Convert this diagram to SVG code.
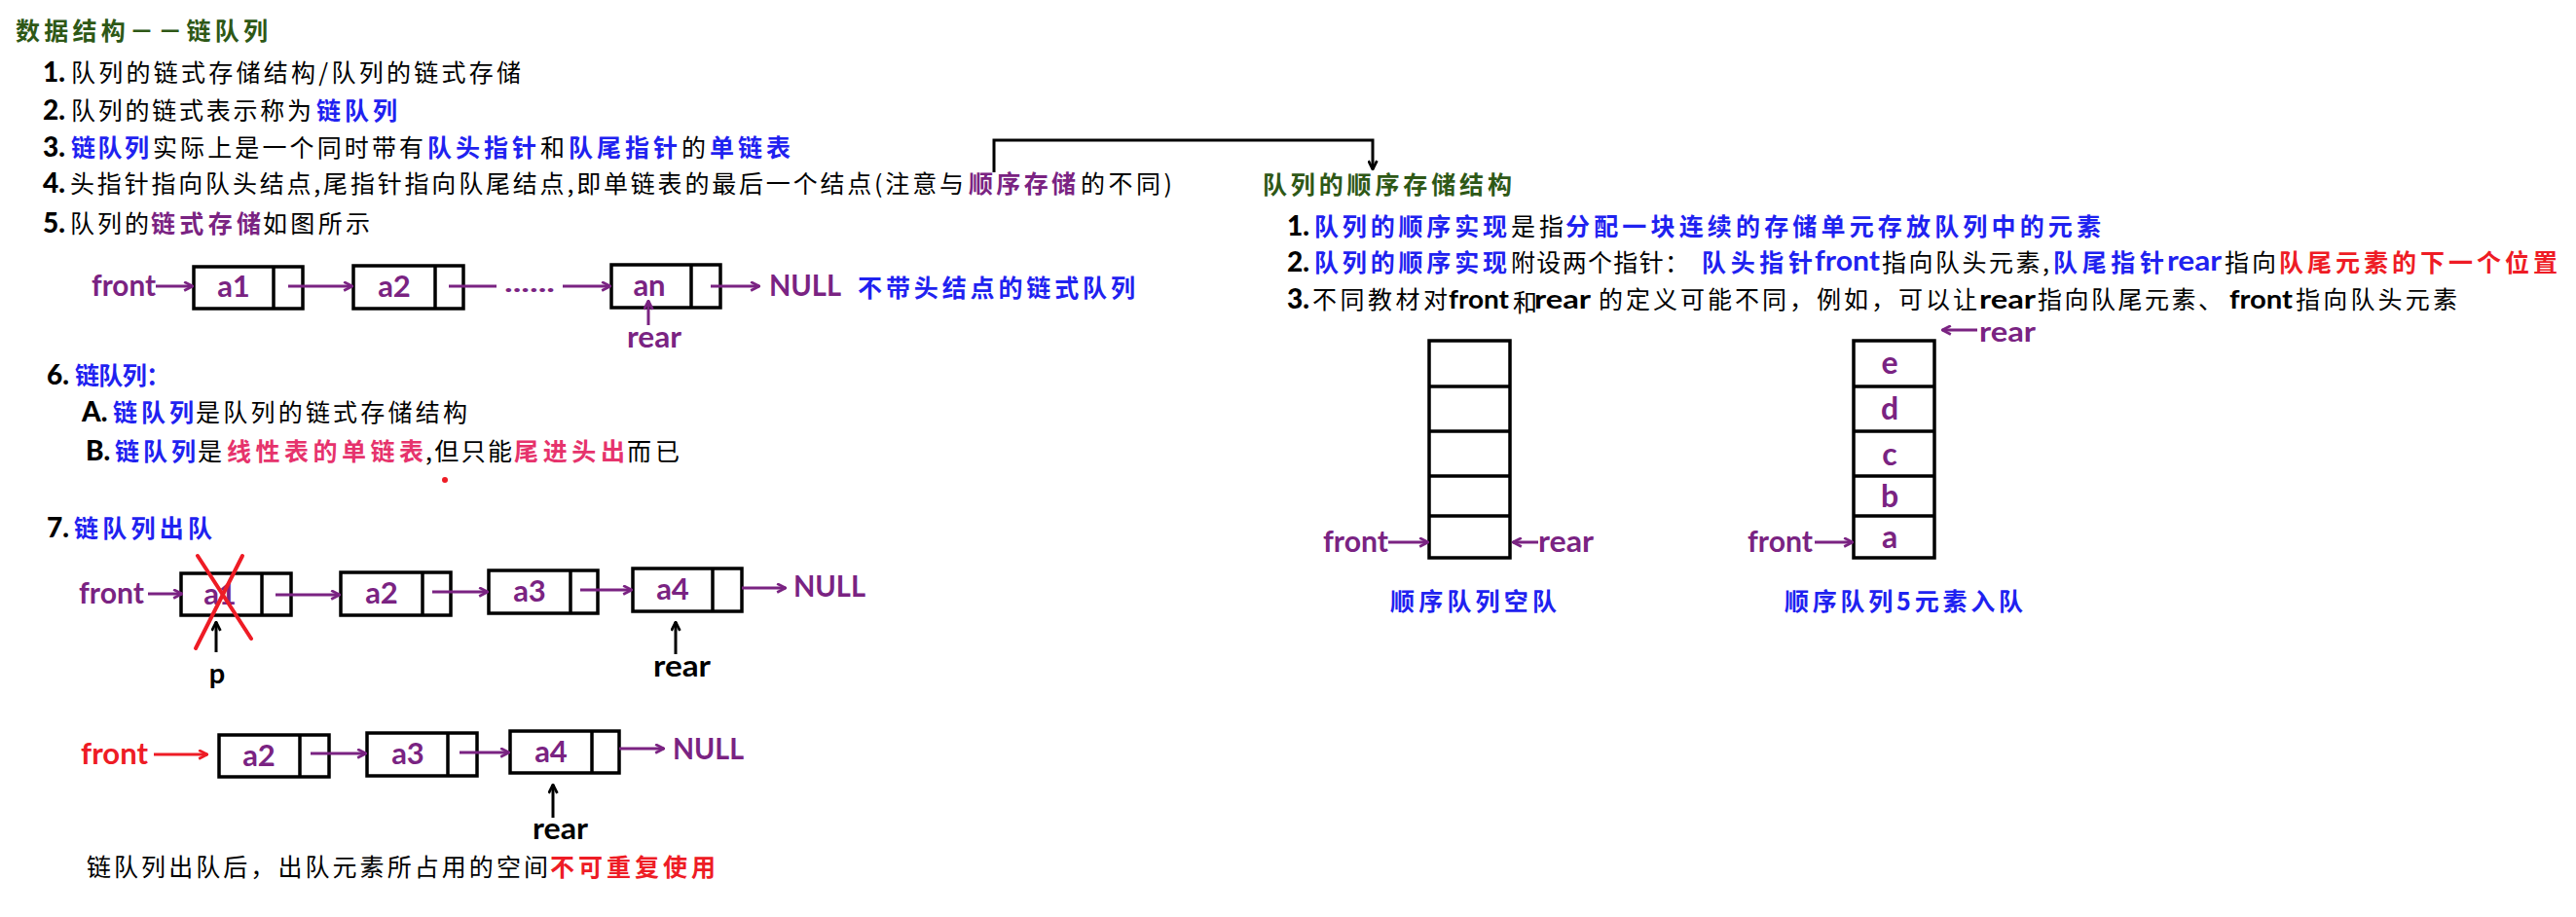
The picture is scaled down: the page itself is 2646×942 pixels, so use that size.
<svg xmlns="http://www.w3.org/2000/svg" width="2646" height="942" viewBox="0 0 2646 942">
<style>
.cn{font-family:"Noto Sans CJK SC","Noto Sans CJK JP",sans-serif;font-size:25px;dominant-baseline:central}
.b{font-weight:bold}
.lat{font-family:"Lato","DejaVu Sans",sans-serif;font-weight:bold;dominant-baseline:central}
.num{font-family:"Lato","DejaVu Sans",sans-serif;font-weight:900;font-size:28px;dominant-baseline:central;fill:#000}
.k{fill:#000}.bl{fill:#1f22f0}.pu{fill:#7a2382}.pk{fill:#e6336c}.rd{fill:#ee1c25}.gr{fill:#2e5816}
.box{fill:#fff;stroke:#000;stroke-width:3.5}
.div{stroke:#000;stroke-width:3.5}
.ep{stroke:#7a2382;stroke-width:3;fill:none}
.ek{stroke:#000;stroke-width:3;fill:none}
.er{stroke:#ee1c25;stroke-width:3;fill:none}
.lbl{font-size:31px}
</style>
<defs>
<marker id="ap" viewBox="0 0 10 10" refX="9" refY="5" markerWidth="11" markerHeight="11" markerUnits="userSpaceOnUse" orient="auto"><path d="M1,1 L9,5 L1,9" fill="none" stroke="#7a2382" stroke-width="2.5"/></marker>
<marker id="ak" viewBox="0 0 10 10" refX="9" refY="5" markerWidth="11" markerHeight="11" markerUnits="userSpaceOnUse" orient="auto"><path d="M1,1 L9,5 L1,9" fill="none" stroke="#000" stroke-width="2.5"/></marker>
<marker id="ar" viewBox="0 0 10 10" refX="9" refY="5" markerWidth="11" markerHeight="11" markerUnits="userSpaceOnUse" orient="auto"><path d="M1,1 L9,5 L1,9" fill="none" stroke="#ee1c25" stroke-width="2.5"/></marker>
</defs>
<rect width="2646" height="942" fill="#fff"/>

<g id="text-left">
<text class="cn b gr" x="16" y="30" font-size="26" textLength="259">数据结构－－链队列</text>

<text class="num" x="44" y="73">1.</text>
<text class="cn k" x="73" y="73" textLength="462">队列的链式存储结构/队列的链式存储</text>

<text class="num" x="44" y="112">2.</text>
<text class="cn k" x="73" y="112" textLength="247">队列的链式表示称为</text>
<text class="cn b bl" x="325" y="112" textLength="83">链队列</text>

<text class="num" x="44" y="150">3.</text>
<text class="cn b bl" x="73" y="150" textLength="80">链队列</text>
<text class="cn k" x="157" y="150" textLength="278">实际上是一个同时带有</text>
<text class="cn b bl" x="439" y="150" textLength="112">队头指针</text>
<text class="cn k" x="555" y="150" textLength="25">和</text>
<text class="cn b bl" x="584" y="150" textLength="112">队尾指针</text>
<text class="cn k" x="700" y="150" textLength="25">的</text>
<text class="cn b bl" x="729" y="150" textLength="83">单链表</text>

<text class="num" x="44" y="187">4.</text>
<text class="cn k" x="72" y="187" font-size="24" textLength="918">头指针指向队头结点,尾指针指向队尾结点,即单链表的最后一个结点(注意与</text>
<text class="cn b pu" x="995" y="187" font-size="24" textLength="110">顺序存储</text>
<text class="cn k" x="1110" y="187" font-size="24" textLength="94">的不同)</text>

<text class="num" x="44" y="228">5.</text>
<text class="cn k" x="72" y="228" textLength="81">队列的</text>
<text class="cn b pu" x="155" y="228" textLength="113">链式存储</text>
<text class="cn k" x="270" y="228" textLength="110">如图所示</text>

<text class="num" x="48" y="384">6.</text>
<text class="cn b bl" x="77" y="384" textLength="98">链队列：</text>
<text class="num" x="84" y="422">A.</text>
<text class="cn b bl" x="116" y="422" textLength="83">链队列</text>
<text class="cn k" x="201" y="422" textLength="279">是队列的链式存储结构</text>
<text class="num" x="88" y="462">B.</text>
<text class="cn b bl" x="118" y="462" textLength="83">链队列</text>
<text class="cn k" x="203" y="462" textLength="25">是</text>
<text class="cn b pk" x="233" y="462" textLength="202">线性表的单链表</text>
<text class="cn k" x="437" y="462" textLength="89">,但只能</text>
<text class="cn b pk" x="528" y="462" textLength="114">尾进头出</text>
<text class="cn k" x="644" y="462" textLength="54">而已</text>
<circle cx="457" cy="493" r="3" fill="#ee1c25"/>

<text class="num" x="48" y="541">7.</text>
<text class="cn b bl" x="76" y="541" textLength="142">链队列出队</text>

<text class="cn k" x="89" y="889" textLength="474">链队列出队后，出队元素所占用的空间</text>
<text class="cn b rd" x="565" y="889" textLength="170">不可重复使用</text>
</g>

<g id="row1">
<text class="lat pu lbl" x="94" y="292" textLength="66" lengthAdjust="spacingAndGlyphs">front</text>
<g id="r1-a1"><rect class="box" x="199" y="274" width="112" height="43"/><line class="div" x1="281" y1="274" x2="281" y2="317"/><text class="lat pu lbl" x="240" y="293" text-anchor="middle">a1</text></g>
<g id="r1-a2"><rect class="box" x="363" y="273" width="113" height="44"/><line class="div" x1="447" y1="273" x2="447" y2="317"/><text class="lat pu lbl" x="405" y="293" text-anchor="middle">a2</text></g>
<text class="lat pu" x="518" y="290" font-size="26" textLength="52" lengthAdjust="spacingAndGlyphs">......</text>
<g id="r1-an"><rect class="box" x="628" y="272" width="112" height="44"/><line class="div" x1="710" y1="272" x2="710" y2="316"/><text class="lat pu lbl" x="667" y="292" text-anchor="middle">an</text></g>
<text class="lat pu lbl" x="790" y="292" textLength="74" lengthAdjust="spacingAndGlyphs">NULL</text>
<text class="cn b bl" x="881" y="294" textLength="285">不带头结点的链式队列</text>
<text class="lat pu lbl" x="644" y="345" textLength="56" lengthAdjust="spacingAndGlyphs">rear</text>
</g>

<g id="row2">
<text class="lat pu lbl" x="81" y="608" textLength="67" lengthAdjust="spacingAndGlyphs">front</text>
<g id="r2-a1"><rect class="box" x="186" y="589" width="113" height="43"/><line class="div" x1="269" y1="589" x2="269" y2="632"/><text class="lat pu lbl" x="226" y="609" text-anchor="middle">a1</text></g>
<g id="r2-a2"><rect class="box" x="350" y="588" width="113" height="44"/><line class="div" x1="434" y1="588" x2="434" y2="632"/><text class="lat pu lbl" x="392" y="608" text-anchor="middle">a2</text></g>
<g id="r2-a3"><rect class="box" x="502" y="586" width="112" height="44"/><line class="div" x1="586" y1="586" x2="586" y2="630"/><text class="lat pu lbl" x="544" y="606" text-anchor="middle">a3</text></g>
<g id="r2-a4"><rect class="box" x="650" y="584" width="112" height="44"/><line class="div" x1="732" y1="584" x2="732" y2="628"/><text class="lat pu lbl" x="691" y="604" text-anchor="middle">a4</text></g>
<text class="lat pu lbl" x="815" y="601" textLength="74" lengthAdjust="spacingAndGlyphs">NULL</text>
<line x1="203" y1="571" x2="258" y2="656" stroke="#ee1c25" stroke-width="4" stroke-linecap="round"/>
<line x1="249" y1="571" x2="201" y2="666" stroke="#ee1c25" stroke-width="4" stroke-linecap="round"/>
<text class="lat k" x="223" y="690" font-size="29" text-anchor="middle">p</text>
<text class="lat k lbl" x="671" y="683" textLength="59" lengthAdjust="spacingAndGlyphs">rear</text>
</g>

<g id="row3">
<text class="lat rd lbl" x="83" y="773" textLength="69" lengthAdjust="spacingAndGlyphs">front</text>
<g id="r3-a2"><rect class="box" x="225" y="755" width="113" height="43"/><line class="div" x1="308" y1="755" x2="308" y2="798"/><text class="lat pu lbl" x="266" y="775" text-anchor="middle">a2</text></g>
<g id="r3-a3"><rect class="box" x="377" y="753" width="113" height="44"/><line class="div" x1="460" y1="753" x2="460" y2="797"/><text class="lat pu lbl" x="419" y="773" text-anchor="middle">a3</text></g>
<g id="r3-a4"><rect class="box" x="524" y="751" width="112" height="43"/><line class="div" x1="608" y1="751" x2="608" y2="794"/><text class="lat pu lbl" x="566" y="771" text-anchor="middle">a4</text></g>
<text class="lat pu lbl" x="691" y="768" textLength="73" lengthAdjust="spacingAndGlyphs">NULL</text>
<text class="lat k lbl" x="547" y="850" textLength="57" lengthAdjust="spacingAndGlyphs">rear</text>
</g>

<g id="text-right">
<text class="cn b gr" x="1297" y="188" textLength="256">队列的顺序存储结构</text>

<text class="num" x="1322" y="231">1.</text>
<text class="cn b bl" x="1350" y="231" textLength="198">队列的顺序实现</text>
<text class="cn k" x="1552" y="231" textLength="54">是指</text>
<text class="cn b bl" x="1608" y="231" textLength="550">分配一块连续的存储单元存放队列中的元素</text>

<text class="num" x="1322" y="268">2.</text>
<text class="cn b bl" x="1350" y="268" textLength="198">队列的顺序实现</text>
<text class="cn k" x="1552" y="268" textLength="183">附设两个指针：</text>
<text class="cn b bl" x="1748" y="268" textLength="114">队头指针</text>
<text class="lat bl" x="1864" y="266" font-size="29" textLength="67" lengthAdjust="spacingAndGlyphs">front</text>
<text class="cn k" x="1933" y="268" textLength="172">指向队头元素,</text>
<text class="cn b bl" x="2109" y="268" textLength="114">队尾指针</text>
<text class="lat bl" x="2226" y="266" font-size="29" textLength="56" lengthAdjust="spacingAndGlyphs">rear</text>
<text class="cn k" x="2285" y="268" textLength="53">指向</text>
<text class="cn b rd" x="2341" y="268" textLength="286">队尾元素的下一个位置</text>

<text class="num" x="1322" y="306">3.</text>
<text class="cn k" x="1348" y="306" textLength="139">不同教材对</text>
<text class="lat k" x="1488" y="306" font-size="27" textLength="62" lengthAdjust="spacingAndGlyphs">front</text>
<text class="cn k" x="1554" y="309" font-size="17" textLength="17">和</text>
<text class="lat k" x="1576" y="306" font-size="27" textLength="58" lengthAdjust="spacingAndGlyphs">rear</text>
<text class="cn k" x="1642" y="306" textLength="389">的定义可能不同，例如，可以让</text>
<text class="lat k" x="2033" y="306" font-size="27" textLength="58" lengthAdjust="spacingAndGlyphs">rear</text>
<text class="cn k" x="2093" y="306" textLength="190">指向队尾元素、</text>
<text class="lat k" x="2290" y="306" font-size="27" textLength="65" lengthAdjust="spacingAndGlyphs">front</text>
<text class="cn k" x="2358" y="306" textLength="166">指向队头元素</text>
</g>

<g id="stack-empty">
<rect class="box" x="1468" y="350" width="83" height="223"/>
<line class="div" x1="1468" y1="397" x2="1551" y2="397"/>
<line class="div" x1="1468" y1="443" x2="1551" y2="443"/>
<line class="div" x1="1468" y1="489" x2="1551" y2="489"/>
<line class="div" x1="1468" y1="530" x2="1551" y2="530"/>
<text class="lat pu lbl" x="1359" y="555" textLength="67" lengthAdjust="spacingAndGlyphs">front</text>
<text class="lat pu lbl" x="1580" y="555" textLength="57" lengthAdjust="spacingAndGlyphs">rear</text>
<text class="cn b bl" x="1428" y="616" textLength="171">顺序队列空队</text>
</g>

<g id="stack-full">
<rect class="box" x="1904" y="350" width="83" height="223"/>
<line class="div" x1="1904" y1="397" x2="1987" y2="397"/>
<line class="div" x1="1904" y1="443" x2="1987" y2="443"/>
<line class="div" x1="1904" y1="489" x2="1987" y2="489"/>
<line class="div" x1="1904" y1="530" x2="1987" y2="530"/>
<text class="lat pu" x="1941" y="371" font-size="32" text-anchor="middle">e</text>
<text class="lat pu" x="1941" y="418" font-size="32" text-anchor="middle">d</text>
<text class="lat pu" x="1941" y="465" font-size="32" text-anchor="middle">c</text>
<text class="lat pu" x="1941" y="508" font-size="32" text-anchor="middle">b</text>
<text class="lat pu" x="1941" y="550" font-size="32" text-anchor="middle">a</text>
<text class="lat pu lbl" x="1795" y="555" textLength="67" lengthAdjust="spacingAndGlyphs">front</text>
<text class="lat pu" x="2033" y="340" font-size="28" textLength="58" lengthAdjust="spacingAndGlyphs">rear</text>
<text class="cn b bl" x="1833" y="616" textLength="245">顺序队列5元素入队</text>
</g>

<g id="connectors">
<line class="ep" x1="160" y1="294" x2="198" y2="294" marker-end="url(#ap)"/>
<line class="ep" x1="296" y1="294" x2="362" y2="294" marker-end="url(#ap)"/>
<line class="ep" x1="461" y1="294" x2="510" y2="294"/>
<line class="ep" x1="578" y1="294" x2="627" y2="294" marker-end="url(#ap)"/>
<line class="ep" x1="730" y1="294" x2="780" y2="294" marker-end="url(#ap)"/>
<line class="ep" x1="666" y1="334" x2="666" y2="309" marker-end="url(#ap)"/>

<line class="ep" x1="152" y1="610" x2="187" y2="610" marker-end="url(#ap)"/>
<line class="ep" x1="283" y1="611" x2="349" y2="611" marker-end="url(#ap)"/>
<line class="ep" x1="444" y1="608" x2="501" y2="608" marker-end="url(#ap)"/>
<line class="ep" x1="596" y1="606" x2="649" y2="606" marker-end="url(#ap)"/>
<line class="ep" x1="762" y1="604" x2="807" y2="604" marker-end="url(#ap)"/>
<line class="ek" x1="222" y1="670" x2="222" y2="639" marker-end="url(#ak)"/>
<line class="ek" x1="694" y1="672" x2="694" y2="639" marker-end="url(#ak)"/>

<line class="er" x1="158" y1="775" x2="213" y2="775" marker-end="url(#ar)"/>
<line class="ep" x1="319" y1="774" x2="376" y2="774" marker-end="url(#ap)"/>
<line class="ep" x1="472" y1="773" x2="523" y2="773" marker-end="url(#ap)"/>
<line class="ep" x1="636" y1="769" x2="682" y2="769" marker-end="url(#ap)"/>
<line class="ek" x1="568" y1="840" x2="568" y2="806" marker-end="url(#ak)"/>

<path class="ek" d="M1021,177 V144 H1410 V174" marker-end="url(#ak)"/>

<line class="ep" x1="1426" y1="557" x2="1467" y2="557" marker-end="url(#ap)"/>
<line class="ep" x1="1580" y1="557" x2="1554" y2="557" marker-end="url(#ap)"/>
<line class="ep" x1="1864" y1="557" x2="1903" y2="557" marker-end="url(#ap)"/>
<line class="ep" x1="2031" y1="339" x2="1995" y2="339" marker-end="url(#ap)"/>
</g>
</svg>
